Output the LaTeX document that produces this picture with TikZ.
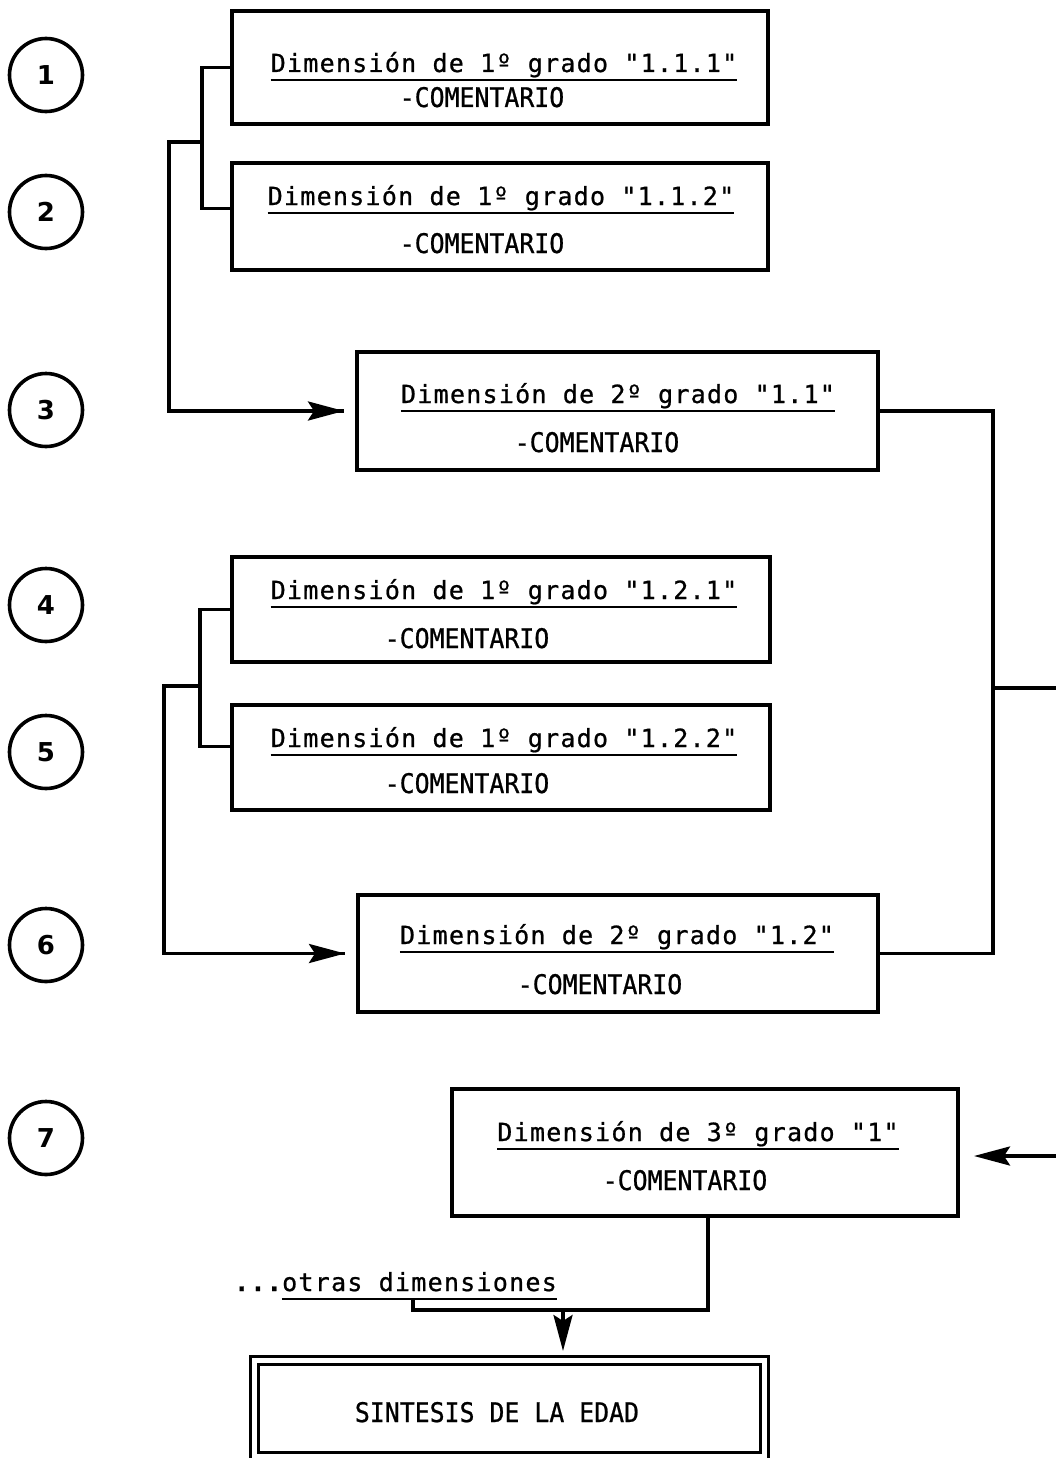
\documentclass[tikz,border=0pt]{standalone}
\usepackage{fontspec}
\setmainfont{DejaVu Sans Mono}
\newfontfamily\twfont[LetterSpace=5,FakeBold=0.8]{DejaVu Sans Mono}
\newfontfamily\cmfont[FakeStretch=0.92,FakeBold=0.8]{DejaVu Sans Mono}
\newfontfamily\numfont{DejaVu Sans}
\usetikzlibrary{arrows.meta,calc}
\begin{document}
\begin{tikzpicture}[x=1pt,y=-1pt,
  box/.style={draw, line width=4pt, inner sep=0pt},
  ttl/.style={inner sep=0pt, anchor=base, font=\twfont\fontsize{25pt}{27pt}\selectfont},
  cmt/.style={inner sep=0pt, anchor=base, font=\cmfont\fontsize{27pt}{29pt}\selectfont},
  uline/.style={line width=2.8pt},
  conn/.style={line width=3.6pt},
  arr/.style={line width=3.6pt, -{Stealth[length=36pt,width=19pt,inset=6pt]}},
  num/.style={draw, circle, line width=3.6pt, minimum size=73pt, inner sep=0pt, font=\numfont\bfseries\fontsize{26pt}{28pt}\selectfont}
]
\useasboundingbox (0,0) rectangle (1055,1458);

% numbered circles
\node[num] (n1) at (46,75) {1};
\node[num] (n2) at (46,212) {2};
\node[num] (n3) at (46,410) {3};
\node[num] (n4) at (46,605) {4};
\node[num] (n5) at (46,752) {5};
\node[num] (n6) at (46,945) {6};
\node[num] (n7) at (46,1138) {7};

% boxes
\node[box, minimum width=536pt, minimum height=113pt] (A) at (500,67.5) {};
\node[box, minimum width=536pt, minimum height=107pt] (B) at (500,216.5) {};
\node[box, minimum width=521pt, minimum height=118pt] (C) at (617.5,411) {};
\node[box, minimum width=538pt, minimum height=105pt] (D) at (501,609.5) {};
\node[box, minimum width=538pt, minimum height=105pt] (E) at (501,757.5) {};
\node[box, minimum width=520pt, minimum height=117pt] (F) at (618,953.5) {};
\node[box, minimum width=506pt, minimum height=127pt] (G) at (705,1152.5) {};
\node[draw, line width=3pt, double, double distance=5pt, minimum width=510pt, minimum height=96pt, inner sep=0pt] (H) at (509,1408) {};

% titles
\node[ttl] (tA) at (504,72) {Dimensión de 1º grado "1.1.1"};
\node[ttl] (tB) at (501,205) {Dimensión de 1º grado "1.1.2"};
\node[ttl] (tC) at (618,403) {Dimensión de 2º grado "1.1"};
\node[ttl] (tD) at (504,599) {Dimensión de 1º grado "1.2.1"};
\node[ttl] (tE) at (504,747) {Dimensión de 1º grado "1.2.2"};
\node[ttl] (tF) at (617,944) {Dimensión de 2º grado "1.2"};
\node[ttl] (tG) at (698,1141) {Dimensión de 3º grado "1"};
\foreach \t in {tA,tB,tC,tD,tE,tF,tG}
  \draw[uline] ([yshift=-8pt]\t.base west) -- ([yshift=-8pt]\t.base east);

% comments
\node[cmt] (cA) at (482,107) {-COMENTARIO};
\node[cmt] (cB) at (482,253) {-COMENTARIO};
\node[cmt] (cC) at (597,452) {-COMENTARIO};
\node[cmt] (cD) at (467,648) {-COMENTARIO};
\node[cmt] (cE) at (467,793) {-COMENTARIO};
\node[cmt] (cF) at (600,994) {-COMENTARIO};
\node[cmt] (cG) at (685,1190) {-COMENTARIO};

% synthesis
\node[cmt] (tH) at (497,1422) {SINTESIS DE LA EDAD};

% otras dimensiones
\node[ttl, anchor=base east] (otr) at (557,1291) {otras dimensiones};
\node[ttl, anchor=base east, font=\twfont\bfseries\fontsize{25pt}{27pt}\selectfont] (dots) at (otr.base west) {...};
\draw[uline] ([yshift=-8pt]otr.base west) -- ([yshift=-8pt]otr.base east);

% bracket 1.1.x
\coordinate (b1) at (202,142);
\draw[conn] (A.west) -| (b1) |- ([yshift=8pt]B.west);
\coordinate (c3) at (344,411);
\draw[conn] (b1) -- (169,142) |- (c3);
\draw[arr] (290,411) -- (c3);

% bracket 1.2.x
\coordinate (b2) at (200,686);
\draw[conn] (D.west) -| (b2) |- ([yshift=11pt]E.west);
\coordinate (c6) at (345,953.5);
\draw[conn] (b2) -- (164,686) |- (c6);
\draw[arr] (290,953.5) -- (c6);

% right side
\coordinate (r1) at (993,688);
\coordinate (redge) at (1056,688);
\draw[conn] (C.east) -| (r1) |- (F.east);
\draw[conn] (r1) -- (redge);

% arrow into G
\coordinate (gin) at (1056,1156);
\coordinate (gtip) at (974,1156);
\draw[arr] (gin) -- (gtip);

% bottom joint
\coordinate (j1) at (708,1310);
\coordinate (j2) at (413,1310);
\draw[conn] (G.south -| j1) -- (j1) -- (j2) -- ([yshift=-8pt]otr.base west -| j2);
\coordinate (htip) at (563,1351);
\draw[arr] (563,1310) -- (htip);
\end{tikzpicture}
\end{document}
